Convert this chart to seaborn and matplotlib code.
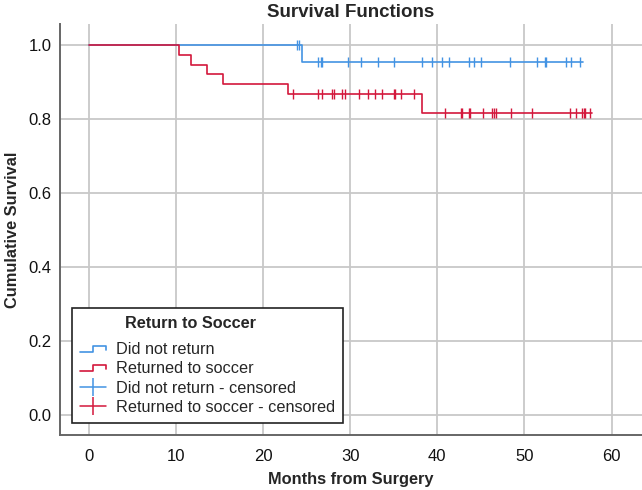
import numpy as np
import pandas as pd
import seaborn as sns
import matplotlib.pyplot as plt
from matplotlib.lines import Line2D
from matplotlib.legend_handler import HandlerBase

# Kaplan-Meier steps (months, cumulative survival)
dnr_times = [0, 24.5]
dnr_surv = [1.0, 0.953]
dnr_end = 56.7
dnr_censored = [23.9, 24.1, 26.3, 26.6, 26.8, 29.7, 31.2, 33.2, 35.0, 38.3, 39.4,
                40.6, 41.4, 43.7, 44.2, 45.0, 48.3, 51.4, 52.4, 52.5, 54.8, 55.3, 56.4]

ret_times = [0, 10.4, 11.7, 13.6, 15.4, 22.9, 38.3]
ret_surv = [1.0, 0.974, 0.947, 0.921, 0.895, 0.868, 0.817]
ret_end = 57.8
ret_censored = [23.4, 26.3, 26.8, 27.9, 28.1, 29.1, 29.4, 31.0, 32.1, 32.8, 33.7,
                35.0, 35.2, 35.8, 37.3, 40.9, 42.7, 42.8, 43.7, 43.8, 45.3, 46.3,
                46.5, 46.8, 48.5, 50.9, 55.2, 55.9, 56.6, 56.8, 57.0, 57.5]

blue = "#4393e3"
red = "#d3183c"


def step_frame(times, surv, end):
    return pd.DataFrame({"t": list(times) + [end], "s": list(surv) + [surv[-1]]})


def censor_frame(times, surv, cens):
    idx = np.searchsorted(times, cens, side="right") - 1
    return pd.DataFrame({"t": cens, "s": np.array(surv)[idx]})


class StepHandler(HandlerBase):
    # small step icon like the SPSS legend
    def create_artists(self, legend, orig_handle, xdescent, ydescent,
                       width, height, fontsize, trans):
        x0, y0 = -xdescent, -ydescent
        xs = [x0, x0 + 0.5 * width, x0 + 0.5 * width, x0 + width, x0 + width]
        ys = [y0 + 0.2 * height, y0 + 0.2 * height, y0 + 0.75 * height,
              y0 + 0.75 * height, y0 + 0.4 * height]
        ln = Line2D(xs, ys, color=orig_handle.get_color(), lw=1.2, transform=trans)
        return [ln]


sns.set_style("white")
plt.rcParams['font.family'] = ['Liberation Sans', 'DejaVu Sans']

fig = plt.figure(figsize=(6.42, 4.90), dpi=100)
ax = fig.add_axes([60 / 642, 55 / 490, 582 / 642, 411 / 490])

sns.lineplot(data=step_frame(dnr_times, dnr_surv, dnr_end), x="t", y="s",
             drawstyle="steps-post", color=blue, lw=1.2, ax=ax, zorder=3)
sns.lineplot(data=step_frame(ret_times, ret_surv, ret_end), x="t", y="s",
             drawstyle="steps-post", color=red, lw=1.2, ax=ax, zorder=4)
sns.scatterplot(data=censor_frame(dnr_times, dnr_surv, dnr_censored), x="t", y="s",
                marker="|", s=60, color=blue, linewidth=1.0, ax=ax, zorder=3)
sns.scatterplot(data=censor_frame(ret_times, ret_surv, ret_censored), x="t", y="s",
                marker="|", s=60, color=red, linewidth=1.0, ax=ax, zorder=4)

ax.set_xlim(-3.3, 63.5)
ax.set_ylim(-0.054, 1.057)
ax.set_xticks([0, 10, 20, 30, 40, 50, 60])
ax.set_yticks([0.0, 0.2, 0.4, 0.6, 0.8, 1.0])
ax.set_yticklabels(["0.0", "0.2", "0.4", "0.6", "0.8", "1.0"])
ax.grid(True, color="#c8c8c8", lw=1.3)
ax.set_axisbelow(True)
ax.tick_params(length=0, labelsize=12, colors="#111111")
ax.tick_params(axis="y", pad=6)
ax.tick_params(axis="x", pad=10)
for side in ["top", "right"]:
    ax.spines[side].set_visible(False)
for side in ["left", "bottom"]:
    ax.spines[side].set_color("#666666")
    ax.spines[side].set_linewidth(1.4)

ax.set_xlabel("Months from Surgery", fontsize=11.8, fontweight="bold", labelpad=6)
ax.set_ylabel("Cumulative Survival", fontsize=11.8, fontweight="bold", labelpad=6)
ax.set_title("Survival Functions", fontsize=13.5, fontweight="bold", pad=5)

handles = [Line2D([], [], color=blue), Line2D([], [], color=red),
           Line2D([], [], color=blue, marker="|", markersize=13, lw=1.1, mew=1.1),
           Line2D([], [], color=red, marker="|", markersize=13, lw=1.1, mew=1.1)]
labels = ["Did not return", "Returned to soccer",
          "Did not return - censored", "Returned to soccer - censored"]
leg = ax.legend(handles, labels, title="          Return to Soccer", loc="lower left",
                bbox_to_anchor=(12 / 582, 12 / 411), borderaxespad=0,
                handler_map={handles[0]: StepHandler(), handles[1]: StepHandler()},
                fontsize=11.7, title_fontproperties={"weight": "bold", "size": 11.7},
                alignment="left", frameon=True, fancybox=False, framealpha=1,
                edgecolor="#222222", handlelength=1.6, handletextpad=0.6,
                labelspacing=0.26, borderpad=0.5)
leg._legend_box.sep = 8.0
leg.get_frame().set_linewidth(1.2)

fig.savefig("out.png", dpi=100)
